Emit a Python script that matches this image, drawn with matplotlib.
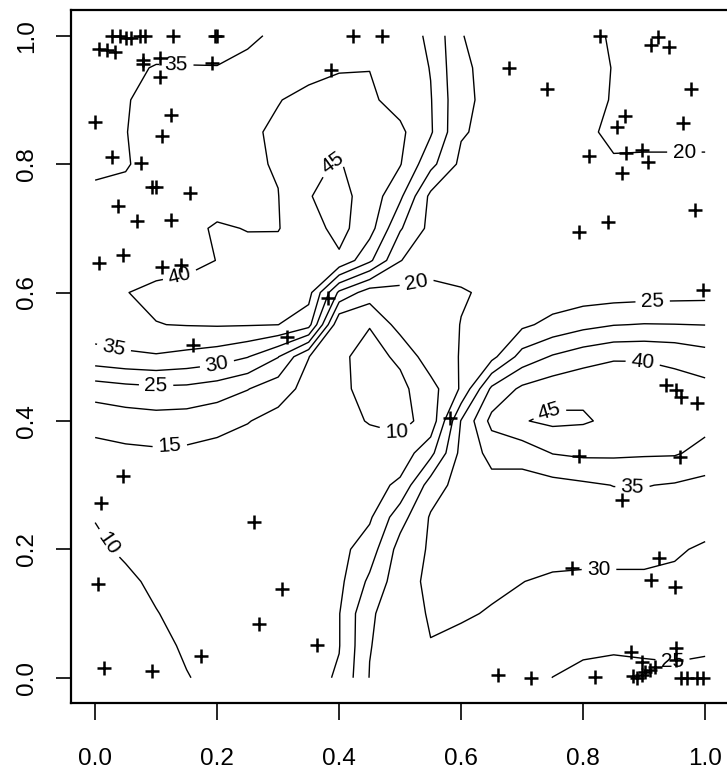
import numpy as np
import matplotlib
matplotlib.use("Agg")
import matplotlib.pyplot as plt

plt.rcParams['font.family'] = ['Liberation Sans', 'DejaVu Sans']

# grid coordinates of the interpolated surface
grid_x = [0.00, 0.05, 0.10, 0.15, 0.20, 0.25, 0.30, 0.35, 0.40, 0.45, 0.50,
          0.55, 0.60, 0.65, 0.70, 0.75, 0.80, 0.85, 0.90, 0.95, 1.00]
grid_y = [0.00, 0.05, 0.10, 0.15, 0.20, 0.25, 0.30, 0.35, 0.40, 0.45, 0.50,
          0.55, 0.60, 0.65, 0.70, 0.75, 0.80, 0.85, 0.90, 0.95, 1.00]

# surface values, rows listed from y = 1.00 (top) down to y = 0.00 (bottom)
z_y100 = [31.5, 32, 32.5, 33, 33.7, 34.5, 35.5, 36.5, 37.5, 38, 37, 34.3, 25.1, 24, 23, 22, 20.8, 19.7, 19, 18.5, 18]
z_y095 = [32.5, 34, 35.3, 35.2, 35.1, 35.7, 37, 38.5, 39.6, 39.9, 38.5, 34.8, 25.6, 24, 23, 22, 21, 19.9, 19, 18.5, 18.2]
z_y090 = [33.5, 34.8, 36, 36.7, 37.3, 38.3, 39.8, 41.3, 42, 40.8, 38.2, 35.3, 26, 23.8, 22.8, 22, 21, 19.8, 19, 18.5, 18.3]
z_y085 = [34, 34.9, 36.5, 37.5, 38.3, 39.2, 40.8, 43, 44, 43, 41, 35.6, 25.5, 23.5, 22.5, 21.6, 20.4, 19.6, 19.5, 19.5, 19.5]
z_y080 = [34.5, 34.6, 37, 38, 38.8, 39.4, 40.3, 44.5, 45.2, 43.5, 40.3, 31.5, 23.8, 23, 22, 21.2, 20.4, 20.2, 20.3, 20.3, 20.3]
z_y075 = [35.5, 36.3, 37.5, 38.3, 38.8, 39.3, 39.9, 44.8, 46.5, 43, 36, 23.8, 23, 22.5, 21.8, 21.2, 20.8, 20.6, 20.6, 20.7, 20.8]
z_y070 = [36.5, 37.3, 38.3, 39.3, 40.3, 39.9, 39.8, 43, 46.5, 42, 30.5, 23.6, 22.8, 22.3, 21.8, 21.5, 21.3, 21.3, 21.4, 21.5, 21.6]
z_y065 = [37, 37.8, 38.6, 39.2, 40.05, 40.8, 41.8, 43.2, 44.2, 36, 25.2, 21.5, 21.5, 21.8, 21.9, 22, 22, 22, 22.2, 22.3, 22.4]
z_y060 = [39.3, 39.9, 40.8, 41, 41, 41.2, 41.5, 41.8, 24, 17.5, 18.5, 19, 19.7, 20.6, 21.3, 21.9, 22.4, 22.7, 23, 23.2, 23.4]
z_y055 = [38, 38.8, 39.9, 40.2, 40.4, 40.3, 40.05, 37, 10.5, 10.2, 17, 18, 20.1, 22, 24, 26.5, 28.5, 29.8, 30.2, 30.1, 29.9]
z_y050 = [33, 34, 34.5, 33.6, 32.5, 30.2, 25.2, 15.1, 10.8, 8.5, 10.8, 18, 20.2, 23.5, 32, 35.5, 37.8, 39.4, 39.5, 38.8, 37.1]
z_y045 = [22.4, 23.4, 24, 23.8, 22.5, 20.2, 17, 13.5, 11, 8.5, 8.8, 13, 20.6, 36, 41, 43, 44, 43.8, 43, 42, 41.5]
z_y040 = [16.6, 17.5, 18, 17.7, 16.6, 15.2, 13.5, 12, 11, 9.8, 8.8, 11.5, 30.3, 41.5, 44.7, 46, 45.5, 44, 43, 42, 41.5]
z_y035 = [13.5, 14, 14.3, 14.1, 13.5, 13, 12.3, 11.8, 11.5, 11.5, 12, 18.5, 31.5, 36.5, 37, 40.2, 41, 40.9, 40.6, 40.5, 38.5]
z_y030 = [12, 12.5, 13, 13, 12.8, 12.5, 12.3, 12.3, 12.5, 13, 16, 27.5, 32, 33.5, 33, 33.3, 34.2, 35.1, 35.2, 34.6, 33.5]
z_y025 = [10.1, 11, 11.5, 12, 12.3, 12.5, 12.8, 13, 13.5, 14.3, 23, 30.5, 31.5, 32, 32.3, 32.5, 32.7, 32.8, 32.8, 32.6, 32.2]
z_y020 = [9.5, 10.4, 11, 11.7, 12.2, 12.6, 13, 13.5, 13.5, 17.5, 27, 30.6, 31, 31.2, 31.3, 31.2, 31, 31, 31, 30.6, 29.3]
z_y015 = [9, 9.5, 10.5, 11.2, 11.8, 12.3, 12.8, 13.4, 13.8, 21, 28, 31, 30.8, 30.5, 30.05, 29.5, 29.4, 29.4, 29.4, 29, 28.5]
z_y010 = [8.5, 9, 9.9, 10.8, 11.5, 12, 12.6, 13.3, 14.8, 24.5, 27, 30.6, 30.3, 29.8, 29.2, 28.5, 28, 27.5, 27.5, 27.5, 27.3]
z_y005 = [8, 8.5, 9.4, 10.3, 11, 11.7, 12.4, 13.2, 14.8, 24.8, 27.5, 29.8, 29.3, 28.5, 27.8, 27, 25.8, 25.6, 25.8, 26, 25.7]
z_y000 = [7.5, 8, 8.8, 9.9, 10.6, 11.4, 12.2, 13.2, 15.6, 25.2, 27.3, 29.2, 28.8, 27.8, 26.8, 24.95, 24, 23.5, 23.8, 24, 23.6]

levels = [10, 15, 20, 25, 30, 35, 40, 45]

# sample locations (crosses)
pts_x = [0.027, 0.040, 0.050, 0.059, 0.073, 0.081, 0.007, 0.020, 0.033, 0.078,
         0.078, 0.107, 0.107, 0.127, 0.196, 0.200, 0.192, 0.125, 0.109, 0.000,
         0.027, 0.076, 0.094, 0.100, 0.156, 0.037, 0.068, 0.125, 0.045, 0.007,
         0.110, 0.140, 0.160, 0.386, 0.423, 0.471, 0.381, 0.314,
         0.679, 0.741, 0.827, 0.922, 0.912, 0.941, 0.977, 0.964, 0.869, 0.855,
         0.810, 0.871, 0.897, 0.907, 0.863, 0.984, 0.840, 0.794, 0.996,
         0.936, 0.953, 0.961, 0.987, 0.794, 0.958, 0.864, 0.581,
         0.045, 0.009, 0.004, 0.015, 0.094, 0.173, 0.260, 0.307, 0.269, 0.364,
         0.925, 0.912, 0.950, 0.781, 0.661, 0.714, 0.820, 0.879, 0.897, 0.881,
         0.889, 0.896, 0.902, 0.909, 0.918, 0.953, 0.953, 0.961, 0.971, 0.986, 0.996]
pts_y = [1.000, 1.000, 0.996, 0.996, 1.000, 1.000, 0.979, 0.978, 0.974, 0.962,
         0.956, 0.965, 0.936, 1.000, 1.000, 1.000, 0.957, 0.877, 0.844, 0.866,
         0.811, 0.802, 0.764, 0.764, 0.755, 0.735, 0.711, 0.713, 0.658, 0.646,
         0.640, 0.643, 0.518, 0.947, 1.000, 1.000, 0.591, 0.531,
         0.950, 0.917, 1.000, 0.998, 0.986, 0.982, 0.917, 0.864, 0.875, 0.858,
         0.812, 0.817, 0.822, 0.803, 0.786, 0.728, 0.710, 0.694, 0.604,
         0.456, 0.448, 0.437, 0.428, 0.345, 0.344, 0.277, 0.405,
         0.314, 0.272, 0.146, 0.015, 0.010, 0.034, 0.243, 0.138, 0.084, 0.051,
         0.186, 0.152, 0.141, 0.171, 0.004, 0.000, 0.001, 0.040, 0.024, 0.003,
         0.000, 0.004, 0.009, 0.012, 0.017, 0.046, 0.028, 0.000, 0.000, 0.000, 0.000]

# where the contour labels sit
label_pos = [(0.133, 0.957), (0.390, 0.800), (0.138, 0.630), (0.030, 0.510),
             (0.200, 0.487), (0.100, 0.456), (0.122, 0.367), (0.527, 0.616),
             (0.494, 0.383), (0.024, 0.210), (0.966, 0.814), (0.914, 0.583),
             (0.898, 0.495), (0.747, 0.409), (0.881, 0.297), (0.826, 0.171),
             (0.946, 0.020)]

tick_vals = [0.0, 0.2, 0.4, 0.6, 0.8, 1.0]
tick_labels = ["0.0", "0.2", "0.4", "0.6", "0.8", "1.0"]

z_rows = [z_y100, z_y095, z_y090, z_y085, z_y080, z_y075, z_y070, z_y065,
          z_y060, z_y055, z_y050, z_y045, z_y040, z_y035, z_y030, z_y025,
          z_y020, z_y015, z_y010, z_y005, z_y000]
Z = np.array(z_rows)[::-1]

fig = plt.figure(figsize=(7.27, 7.73), dpi=100)
ax = fig.add_axes([0.0973, 0.0900, 0.9062, 0.8970])

cs = ax.contour(grid_x, grid_y, Z, levels=levels, colors='black', linewidths=1.0)
ax.clabel(cs, fmt='%d', fontsize=15, inline=True, inline_spacing=7, manual=label_pos)

ax.plot(pts_x, pts_y, linestyle='none', marker='+', color='black',
        markersize=10, markeredgewidth=1.8)

ax.set_xlim(-0.04, 1.04)
ax.set_ylim(-0.04, 1.04)
ax.set_xticks(tick_vals)
ax.set_xticklabels(tick_labels)
ax.set_yticks(tick_vals)
ax.set_yticklabels(tick_labels, rotation=90, va='center')
ax.tick_params(axis='x', length=12, width=1.2, pad=20, labelsize=17.5)
ax.tick_params(axis='y', length=10.5, width=1.2, pad=13, labelsize=17.5)
for s in ax.spines.values():
    s.set_linewidth(1.6)

fig.savefig("out.png", dpi=100)
